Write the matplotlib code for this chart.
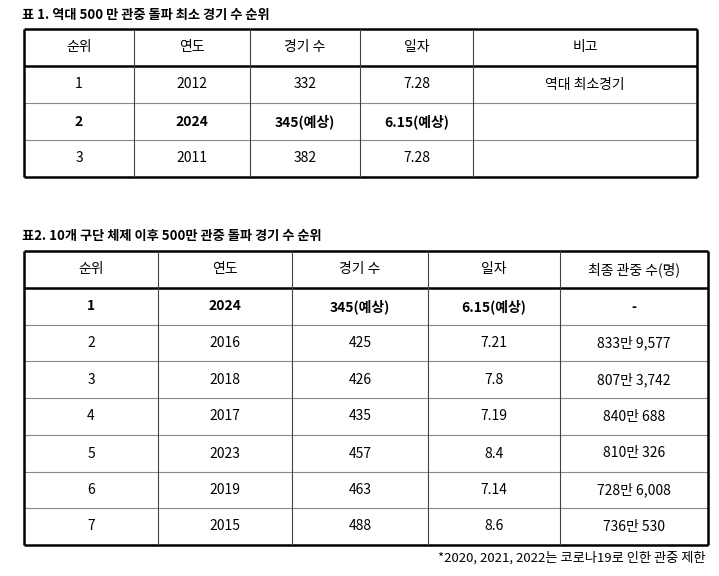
import matplotlib
matplotlib.use("Agg")
import matplotlib.pyplot as plt

plt.rcParams['font.family'] = ['Noto Sans CJK KR', 'DejaVu Sans']

t1_title = "표 1. 역대 500 만 관중 돌파 최소 경기 수 순위"
t1_header = ["순위", "연도", "경기 수", "일자", "비고"]
t1_rank = ["1", "2", "3"]
t1_year = ["2012", "2024", "2011"]
t1_games = ["332", "345(예상)", "382"]
t1_date = ["7.28", "6.15(예상)", "7.28"]
t1_note = ["역대 최소경기", "", ""]
t1_bold = [False, True, False]

t2_title = "표2. 10개 구단 체제 이후 500만 관중 돌파 경기 수 순위"
t2_header = ["순위", "연도", "경기 수", "일자", "최종 관중 수(명)"]
t2_rank = ["1", "2", "3", "4", "5", "6", "7"]
t2_year = ["2024", "2016", "2018", "2017", "2023", "2019", "2015"]
t2_games = ["345(예상)", "425", "426", "435", "457", "463", "488"]
t2_date = ["6.15(예상)", "7.21", "7.8", "7.19", "8.4", "7.14", "8.6"]
t2_final = ["-", "833만 9,577", "807만 3,742", "840만 688", "810만 326", "728만 6,008", "736만 530"]
t2_bold = [True, False, False, False, False, False, False]

footnote = "*2020, 2021, 2022는 코로나19로 인한 관중 제한"

fig = plt.figure(figsize=(7.19, 5.76), dpi=100)
ax = fig.add_axes([0, 0, 1, 1])
ax.set_xlim(0, 719)
ax.set_ylim(576, 0)
ax.axis('off')

def draw_table(title, ty, xs, ys, header, rows, bold):
    ax.text(xs[0] - 2, ty, title, fontsize=9.5, fontweight='bold', va='center', ha='left')
    left, right = xs[0], xs[-1]
    # horizontal lines
    for i, y in enumerate(ys):
        thick = i in (0, 1, len(ys) - 1)
        ax.plot([left, right], [y, y], color='black' if thick else '#888888',
                lw=1.8 if thick else 0.8, solid_capstyle='butt')
    for i, x in enumerate(xs):
        outer = i in (0, len(xs) - 1)
        ax.plot([x, x], [ys[0], ys[-1]], color='black' if outer else '#444444',
                lw=1.8 if outer else 0.8, solid_capstyle='butt')
    for j, h in enumerate(header):
        ax.text((xs[j] + xs[j + 1]) / 2, (ys[0] + ys[1]) / 2, h, fontsize=10, ha='center', va='center')
    for r, row in enumerate(rows):
        for j, v in enumerate(row):
            ax.text((xs[j] + xs[j + 1]) / 2, (ys[r + 1] + ys[r + 2]) / 2, v, fontsize=10,
                    ha='center', va='center', fontweight='bold' if bold[r] else 'normal')

rows1 = list(zip(t1_rank, t1_year, t1_games, t1_date, t1_note))
draw_table(t1_title, 15, [24, 134, 250, 360, 473, 697], [29, 66, 103, 140, 177],
           t1_header, rows1, t1_bold)

rows2 = list(zip(t2_rank, t2_year, t2_games, t2_date, t2_final))
ys2 = [251, 288, 325, 361, 398, 435, 472, 508, 545]
draw_table(t2_title, 236, [24, 158, 292, 428, 560, 708], ys2, t2_header, rows2, t2_bold)

ax.text(705, 558, footnote, fontsize=9.5, ha='right', va='center')

fig.savefig("out.png", dpi=100)
